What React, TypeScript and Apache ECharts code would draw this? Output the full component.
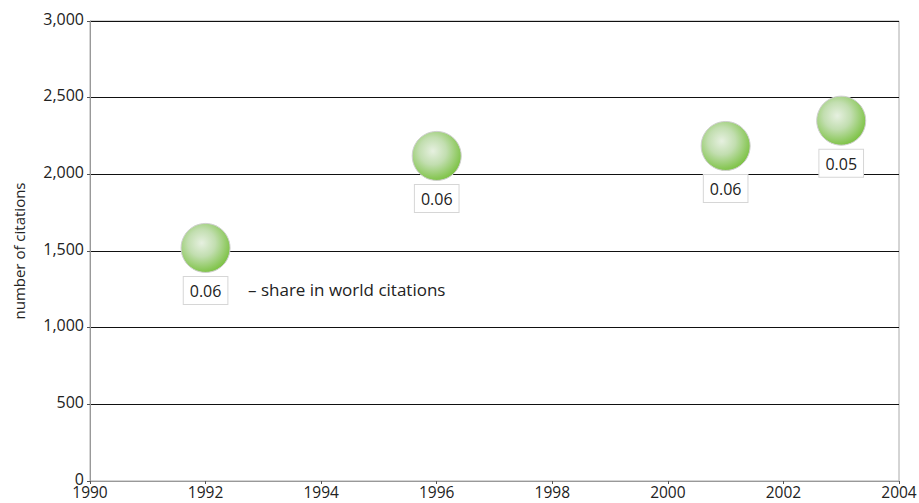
import React, { useEffect, useRef } from "react";
import * as echarts from "echarts";

const years = [1992, 1996, 2001, 2003];
const citations = [1520, 2120, 2185, 2350];
const shares = ["0.06", "0.06", "0.06", "0.05"];
const yTicks = [0, 500, 1000, 1500, 2000, 2500, 3000];
const xTicks = [1990, 1992, 1994, 1996, 1998, 2000, 2002, 2004];

const FONT = "'Open Sans', 'Noto Sans', sans-serif";

export default function App() {
  const ref = useRef<HTMLDivElement>(null);
  useEffect(() => {
    document.body.style.margin = "0";
    const chart = echarts.init(ref.current!, null, { renderer: "svg" });
    const bubble = new echarts.graphic.RadialGradient(0.42, 0.4, 0.62, [
      { offset: 0, color: "#e6f0e0" },
      { offset: 0.45, color: "#c2deb0" },
      { offset: 1, color: "#7cc243" },
    ]);
    chart.setOption({
      animation: false,
      backgroundColor: "#fff",
      grid: {
        left: 90,
        right: 20,
        top: 21,
        bottom: 22,
        outerBoundsMode: "none",
        containLabel: false,
        show: true,
        borderColor: "#aaa",
        borderWidth: 1,
        backgroundColor: "transparent",
      },
      xAxis: {
        type: "value",
        min: xTicks[0],
        max: xTicks[xTicks.length - 1],
        interval: 2,
        axisLine: { show: true, lineStyle: { color: "#999", width: 1 } },
        axisTick: { show: true, length: 3, lineStyle: { color: "#555" } },
        axisLabel: {
          color: "#222",
          fontSize: 15.5,
          fontFamily: FONT,
          margin: 3,
          formatter: (v: number) => String(v),
        },
        splitLine: { show: false },
      },
      yAxis: {
        type: "value",
        min: yTicks[0],
        max: yTicks[yTicks.length - 1],
        interval: 500,
        name: "number of citations",
        nameLocation: "middle",
        nameGap: 64,
        nameTextStyle: { color: "#222", fontSize: 15, fontFamily: FONT },
        axisLine: { show: true, lineStyle: { color: "#999", width: 1 } },
        axisTick: { show: true, length: 3, lineStyle: { color: "#555" } },
        axisLabel: {
          color: "#222",
          fontSize: 16,
          fontFamily: FONT,
          margin: 6,
          formatter: (v: number) => "{t|" + v.toLocaleString("en-US") + "}",
          rich: {
            t: { color: "#222", fontSize: 16, fontFamily: FONT, lineHeight: 16, padding: [0, 0, 5, 0] },
          },
        },
        splitLine: { show: true, lineStyle: { color: "#111", width: 1 } },
      },
      graphic: [
        {
          type: "text",
          left: 248,
          top: 281,
          style: { text: "– share in world citations", fill: "#222", fontSize: 17, fontFamily: FONT },
        },
      ],
      series: [
        {
          type: "scatter",
          symbol: "circle",
          symbolSize: 49,
          data: years.map((y, i) => [y, citations[i]]),
          itemStyle: { color: bubble, borderColor: "#cfcfcf", borderWidth: 1, opacity: 1 },
          label: {
            show: true,
            position: "bottom",
            distance: 4,
            formatter: (p: any) => shares[p.dataIndex],
            color: "#222",
            fontSize: 16,
            fontFamily: FONT,
            backgroundColor: "#fff",
            borderColor: "#d6d6d6",
            borderWidth: 1,
            padding: [4, 6, 3, 6],
            lineHeight: 20,
          },
          emphasis: { disabled: true },
          z: 3,
        },
      ],
    });
    return () => chart.dispose();
  }, []);
  return <div ref={ref} style={{ position: "absolute", left: 0, top: 0, width: 919, height: 503 }} />;
}
